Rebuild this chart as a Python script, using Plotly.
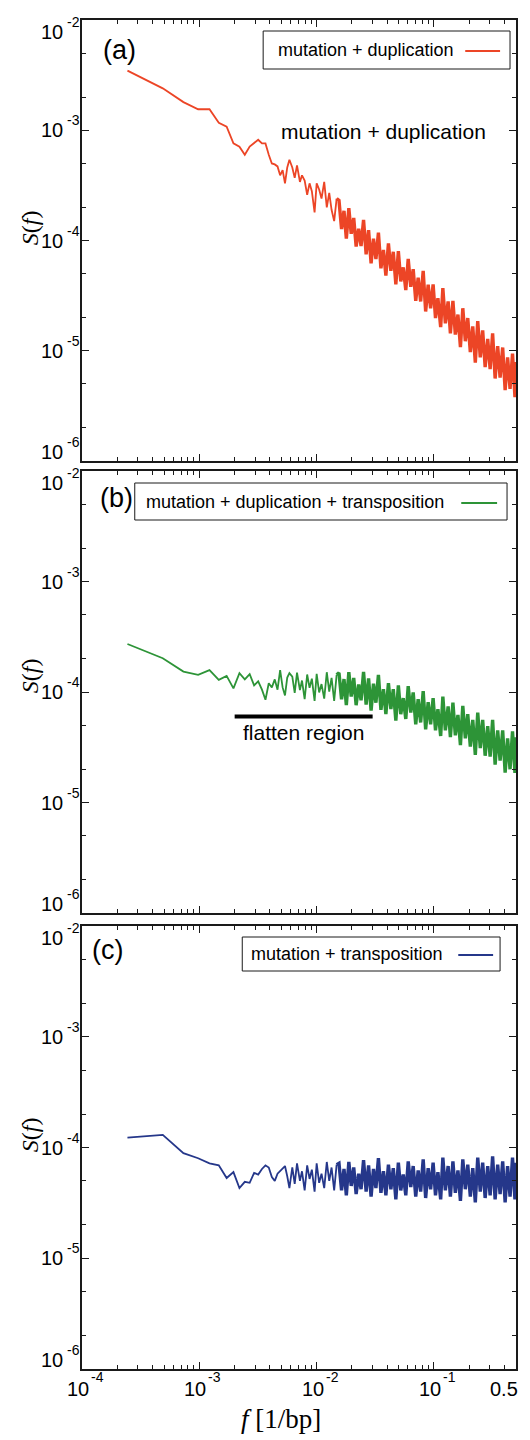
import math
import plotly.graph_objects as go

# ---------------- data ----------------
FREQ = [
    0.000244, 0.000488, 0.000732, 0.000977, 0.001221, 0.001465, 0.001709, 0.001953,
    0.002197, 0.002441, 0.002686, 0.002930, 0.003174, 0.003418, 0.003662, 0.003906,
    0.004150, 0.004395, 0.004639, 0.004883, 0.005127, 0.005371, 0.005615, 0.005859,
    0.0062, 0.0065, 0.0068, 0.0072, 0.0075, 0.0079, 0.0083, 0.0087, 0.0091, 0.0096,
    0.0100, 0.0105, 0.0110, 0.0116, 0.0122, 0.0128, 0.0134, 0.0141, 0.0148, 0.0155,
    0.0163, 0.0171, 0.0179, 0.0188, 0.0197, 0.0207, 0.0217, 0.0228, 0.0239, 0.0251,
    0.0264, 0.0277, 0.0291, 0.0305, 0.0320, 0.0336, 0.0353, 0.0371, 0.0389, 0.0409,
    0.0429, 0.0450, 0.0473, 0.0497, 0.0521, 0.0547, 0.0575, 0.0603, 0.0634, 0.0665,
    0.0699, 0.0733, 0.0770, 0.0809, 0.0849, 0.0892, 0.0936, 0.0983, 0.103, 0.108,
    0.114, 0.119, 0.125, 0.132, 0.138, 0.145, 0.152, 0.160, 0.168, 0.176,
    0.185, 0.194, 0.204, 0.214, 0.225, 0.236, 0.248, 0.260, 0.273, 0.287,
    0.301, 0.316, 0.332, 0.349, 0.366, 0.385, 0.404, 0.424, 0.445, 0.467, 0.490, 0.500,
]

S_MUT_DUP = [
    3.47e-3, 2.4e-3, 1.8e-3, 1.55e-3, 1.55e-3, 1.17e-3, 1.08e-3, 7.6e-4,
    7.1e-4, 6.0e-4, 7.1e-4, 7.6e-4, 8.2e-4, 7.6e-4, 7.6e-4, 6.0e-4,
    5.0e-4, 4.9e-4, 4.7e-4, 3.9e-4, 4.35e-4, 3.3e-4, 4.6e-4, 5.4e-4,
    4.6e-4, 3.7e-4, 4.8e-4, 3.4e-4, 3.9e-4, 3.5e-4, 2.6e-4, 3.3e-4, 2.8e-4, 1.8e-4,
    3.3e-4, 2.9e-4, 2.4e-4, 3.4e-4, 2.0e-4, 2.7e-4, 1.9e-4, 1.5e-4, 2.4e-4, 2.31e-4,
    1.27e-4, 1.86e-4, 1.04e-4, 1.97e-4, 1.15e-4, 1.60e-4, 8.8e-5, 1.28e-4, 8.9e-5, 1.54e-4,
    7.5e-5, 1.24e-4, 6.2e-5, 1.04e-4, 6.8e-5, 1.18e-4, 5.6e-5, 8.2e-5, 4.8e-5, 9.4e-5,
    5.3e-5, 7.9e-5, 4.0e-5, 8.0e-5, 4.25e-5, 5.7e-5, 3.55e-5, 6.8e-5, 3.8e-5, 5.5e-5,
    2.84e-5, 4.6e-5, 2.8e-5, 5.3e-5, 2.27e-5, 3.97e-5, 2.42e-5, 4.0e-5, 1.98e-5, 3.0e-5,
    1.64e-5, 3.7e-5, 1.77e-5, 2.8e-5, 1.44e-5, 2.84e-5, 1.40e-5, 2.13e-5, 1.08e-5, 2.43e-5,
    1.22e-5, 1.98e-5, 9.7e-6, 1.66e-5, 7.8e-6, 1.86e-5, 8.7e-6, 1.53e-5, 7.1e-6, 1.28e-5,
    6.8e-6, 1.44e-5, 5.6e-6, 1.10e-5, 5.7e-6, 1.07e-5, 4.4e-6, 8.7e-6, 4.5e-6, 9.4e-6, 3.8e-6, 7.9e-6,
]

S_MUT_DUP_TRANS = [
    2.72e-4, 2.02e-4, 1.53e-4, 1.43e-4, 1.58e-4, 1.29e-4, 1.4e-4, 1.08e-4,
    1.48e-4, 1.3e-4, 1.45e-4, 1.15e-4, 1.25e-4, 1.05e-4, 8.5e-5, 1.2e-4,
    1.1e-4, 1.3e-4, 1.05e-4, 1.58e-4, 1.1e-4, 9.3e-5, 1.35e-4, 1.48e-4,
    1.38e-4, 9.8e-5, 1.5e-4, 1.04e-4, 1.27e-4, 8.6e-5, 1.44e-4, 1.09e-4, 1.32e-4, 8.3e-5,
    1.46e-4, 9.9e-5, 1.18e-4, 8.7e-5, 1.51e-4, 1.01e-4, 1.34e-4, 8.3e-5, 1.43e-4, 1.49e-4,
    8.6e-5, 1.31e-4, 7.6e-5, 1.51e-4, 9.1e-5, 1.34e-4, 7.6e-5, 1.17e-4, 8.4e-5, 1.52e-4,
    7.7e-5, 1.33e-4, 6.8e-5, 1.19e-4, 8.0e-5, 1.43e-4, 6.9e-5, 1.06e-4, 6.3e-5, 1.20e-4,
    7.0e-5, 1.06e-4, 5.5e-5, 1.15e-4, 6.3e-5, 8.8e-5, 5.7e-5, 1.13e-4, 6.5e-5, 9.9e-5,
    5.1e-5, 8.6e-5, 5.3e-5, 1.02e-4, 4.6e-5, 8.1e-5, 5.1e-5, 8.8e-5, 4.5e-5, 7.0e-5,
    4.0e-5, 9.1e-5, 4.5e-5, 7.4e-5, 3.9e-5, 8.0e-5, 4.05e-5, 6.2e-5, 3.3e-5, 7.5e-5,
    3.8e-5, 6.3e-5, 3.2e-5, 5.6e-5, 2.7e-5, 6.5e-5, 3.1e-5, 5.6e-5, 2.65e-5, 4.9e-5,
    2.6e-5, 5.6e-5, 2.2e-5, 4.5e-5, 2.4e-5, 4.5e-5, 1.86e-5, 3.8e-5, 2.0e-5, 4.4e-5, 1.85e-5, 3.9e-5,
]

S_MUT_TRANS = [
    1.23e-4, 1.30e-4, 8.9e-5, 8.0e-5, 7.2e-5, 6.9e-5, 5.3e-5, 6.0e-5,
    4.3e-5, 4.9e-5, 4.8e-5, 5.9e-5, 5.7e-5, 6.4e-5, 6.9e-5, 6.6e-5,
    5.4e-5, 5.0e-5, 5.8e-5, 6.1e-5, 6.5e-5, 6.8e-5, 5.5e-5, 4.3e-5,
    6.6e-5, 4.7e-5, 7.2e-5, 5.0e-5, 6.1e-5, 4.1e-5, 6.9e-5, 5.2e-5, 6.3e-5, 4.0e-5,
    7.2e-5, 4.8e-5, 5.8e-5, 4.3e-5, 7.4e-5, 5.0e-5, 6.6e-5, 4.1e-5, 7.0e-5, 7.2e-5,
    4.1e-5, 6.4e-5, 3.7e-5, 7.4e-5, 4.5e-5, 6.6e-5, 3.8e-5, 5.8e-5, 4.2e-5, 7.7e-5,
    4.0e-5, 6.9e-5, 3.6e-5, 6.4e-5, 4.3e-5, 8.0e-5, 3.9e-5, 6.1e-5, 3.7e-5, 7.0e-5,
    4.2e-5, 6.5e-5, 3.4e-5, 7.3e-5, 4.1e-5, 5.7e-5, 3.7e-5, 7.5e-5, 4.4e-5, 6.8e-5,
    3.6e-5, 6.2e-5, 4.0e-5, 7.8e-5, 3.5e-5, 6.5e-5, 4.2e-5, 7.3e-5, 3.7e-5, 6.0e-5,
    3.4e-5, 8.1e-5, 4.1e-5, 6.8e-5, 3.6e-5, 7.5e-5, 3.9e-5, 6.2e-5, 3.3e-5, 7.8e-5,
    4.2e-5, 7.0e-5, 3.6e-5, 6.5e-5, 3.2e-5, 8.1e-5, 4.0e-5, 7.3e-5, 3.5e-5, 6.8e-5,
    3.7e-5, 8.3e-5, 3.4e-5, 7.0e-5, 3.8e-5, 7.5e-5, 3.2e-5, 6.8e-5, 3.6e-5, 8.1e-5, 3.4e-5, 7.3e-5,
]

FLAT_F = [0.002, 0.03]
FLAT_S = [6.0e-5, 6.0e-5]

SERIES_NAMES = ["mutation + duplication",
                "mutation + duplication + transposition",
                "mutation + transposition"]
PANEL_LABELS = ["(a)", "(b)", "(c)"]
X_TICKS = [1e-4, 1e-3, 1e-2, 1e-1, 0.5]
X_TICK_BASE = ["10", "10", "10", "10", "0.5"]
X_TICK_EXP = ["-4", "-3", "-2", "-1", ""]
Y_TICKS = [1e-2, 1e-3, 1e-4, 1e-5, 1e-6]
Y_TICK_EXP = ["-2", "-3", "-4", "-5", "-6"]

# ---------------- layout helpers ----------------
W, H = 530, 1440
L, R, T, B = 82, 12, 20, 71
PW, PH = W - L - R, H - T - B


def px(x):
    return (x - L) / PW


def py(y):
    return (H - B - y) / PH


COLORS = ["#ec4526", "#2d9437", "#25378a"]
SERIES = [S_MUT_DUP, S_MUT_DUP_TRANS, S_MUT_TRANS]
PANEL_PIX = [(20, 461), (471, 913), (926, 1369)]
SPLIT = 42  # where the spectrum becomes dense

SANS = "Liberation Sans, Arial, Helvetica, sans-serif"
SERIF = "Liberation Serif, Times New Roman, serif"

x_minor = [k * 10 ** d for d in range(-4, 0) for k in range(2, 10) if k * 10 ** d < 0.5]
y_minor = [k * 10 ** d for d in range(-6, -2) for k in (2, 5)]

fig = go.Figure()

for i in range(3):
    sfx = "" if i == 0 else str(i + 1)
    fig.add_trace(go.Scatter(
        x=FREQ[:SPLIT + 1], y=SERIES[i][:SPLIT + 1], mode="lines",
        line=dict(color=COLORS[i], width=1.8),
        xaxis="x" + sfx, yaxis="y" + sfx,
        showlegend=False, hoverinfo="skip"))
    fig.add_trace(go.Scatter(
        x=FREQ[SPLIT:], y=SERIES[i][SPLIT:], mode="lines",
        line=dict(color=COLORS[i], width=3.4),
        xaxis="x" + sfx, yaxis="y" + sfx,
        showlegend=False, hoverinfo="skip"))

fig.add_trace(go.Scatter(
    x=FLAT_F, y=FLAT_S, mode="lines", line=dict(color="black", width=4),
    xaxis="x2", yaxis="y2", showlegend=False, hoverinfo="skip"))

layout = dict(
    width=W, height=H,
    margin=dict(l=L, r=R, t=T, b=B, pad=0),
    paper_bgcolor="white", plot_bgcolor="white",
    showlegend=False,
    font=dict(family=SANS, color="black", size=18),
)

for i in range(3):
    sfx = "" if i == 0 else str(i + 1)
    top, bot = PANEL_PIX[i]
    layout["xaxis" + sfx] = dict(
        type="log", range=[-4, math.log10(0.5)], domain=[0, 1],
        anchor="y" + sfx,
        showline=True, linecolor="#1a1a1a", linewidth=1.5, mirror="allticks",
        ticks="inside", ticklen=7, tickwidth=1.2, tickcolor="#1a1a1a",
        tickmode="array", tickvals=X_TICKS, showticklabels=False,
        showgrid=False, zeroline=False,
        minor=dict(ticks="inside", ticklen=4, tickwidth=1, tickcolor="#1a1a1a",
                   tickmode="array", tickvals=x_minor, showgrid=False),
    )
    layout["yaxis" + sfx] = dict(
        type="log", range=[-6, -2], domain=[py(bot), py(top)],
        anchor="x" + sfx,
        showline=True, linecolor="#1a1a1a", linewidth=1.5, mirror="allticks",
        ticks="inside", ticklen=7, tickwidth=1.2, tickcolor="#1a1a1a",
        tickmode="array", tickvals=Y_TICKS, showticklabels=False,
        showgrid=False, zeroline=False,
        minor=dict(ticks="inside", ticklen=4, tickwidth=1, tickcolor="#1a1a1a",
                   tickmode="array", tickvals=y_minor, showgrid=False),
    )

annotations = []
shapes = []


def note(text, x, y, size, family=SANS, xanchor="center", yanchor="middle", angle=0):
    annotations.append(dict(text=text, x=px(x), y=py(y), xref="paper", yref="paper",
                            xanchor=xanchor, yanchor=yanchor, showarrow=False,
                            textangle=angle, font=dict(size=size, family=family, color="black")))


BASE_SIZE, EXP_SIZE = 20, 14

# y tick labels (placed on the axes' own log scale; end labels nudged inside the panel)
for i in range(3):
    sfx = "" if i == 0 else str(i + 1)
    for j, (v, ex) in enumerate(zip(Y_TICKS, Y_TICK_EXP)):
        shift = -12 if j == 0 else (9 if j == len(Y_TICKS) - 1 else 0)
        common = dict(xref="paper", yref="y" + sfx, x=0, y=math.log10(v),
                      showarrow=False, yanchor="middle")
        annotations.append(dict(common, text="10", xanchor="right", xshift=-17,
                                yshift=shift, font=dict(size=BASE_SIZE, family=SANS, color="black")))
        annotations.append(dict(common, text=ex, xanchor="left", xshift=-17,
                                yshift=shift + 10, font=dict(size=EXP_SIZE, family=SANS, color="black")))

# x tick labels for the bottom panel
for v, base, ex in zip(X_TICKS, X_TICK_BASE, X_TICK_EXP):
    common = dict(xref="x3", yref="paper", x=math.log10(v), y=0, showarrow=False,
                  yanchor="middle")
    if ex:
        annotations.append(dict(common, text=base, xanchor="center", xshift=-4, yshift=-20,
                                font=dict(size=BASE_SIZE, family=SANS, color="black")))
        annotations.append(dict(common, text=ex, xanchor="left", xshift=7, yshift=-8,
                                font=dict(size=EXP_SIZE, family=SANS, color="black")))
    else:
        annotations.append(dict(common, text=base, xanchor="center", xshift=-12, yshift=-20,
                                font=dict(size=BASE_SIZE, family=SANS, color="black")))

# panel labels
for lab, (x, y) in zip(PANEL_LABELS, [(120, 50), (117, 498), (108, 950)]):
    note(lab, x, y, 27)

# S(f) axis labels
for y in (228, 676, 1135):
    note("<i>S</i>(<i>f</i>)", 30, y, 24, family=SERIF, angle=-90)

# x title
note("<i>f</i> [1/bp]", 282, 1419, 27, family=SERIF)

# in-plot labels
note("mutation + duplication", 385, 131, 21)
note("flatten region", 305, 733, 21)

# legend boxes (text then line sample)
LEG = [
    dict(box=(264, 31, 512, 69), tx=277, ty=50, line=(467, 502, 51)),
    dict(box=(135, 483, 509, 520), tx=144, ty=502, line=(463, 499, 503)),
    dict(box=(243, 937, 502, 971), tx=250, ty=954, line=(460, 495, 955)),
]
for i, lg in enumerate(LEG):
    x0, y0, x1, y1 = lg["box"]
    shapes.append(dict(type="rect", xref="paper", yref="paper",
                       x0=px(x0), x1=px(x1), y0=py(y1), y1=py(y0),
                       line=dict(color="#1a1a1a", width=1), fillcolor="white", layer="above"))
    lx0, lx1, ly = lg["line"]
    shapes.append(dict(type="line", xref="paper", yref="paper",
                       x0=px(lx0), x1=px(lx1), y0=py(ly), y1=py(ly),
                       line=dict(color=COLORS[i], width=2), layer="above"))
    note(SERIES_NAMES[i], lg["tx"], lg["ty"], 18, xanchor="left")

layout["annotations"] = annotations
layout["shapes"] = shapes
fig.update_layout(**layout)

fig.write_html("out.html")
